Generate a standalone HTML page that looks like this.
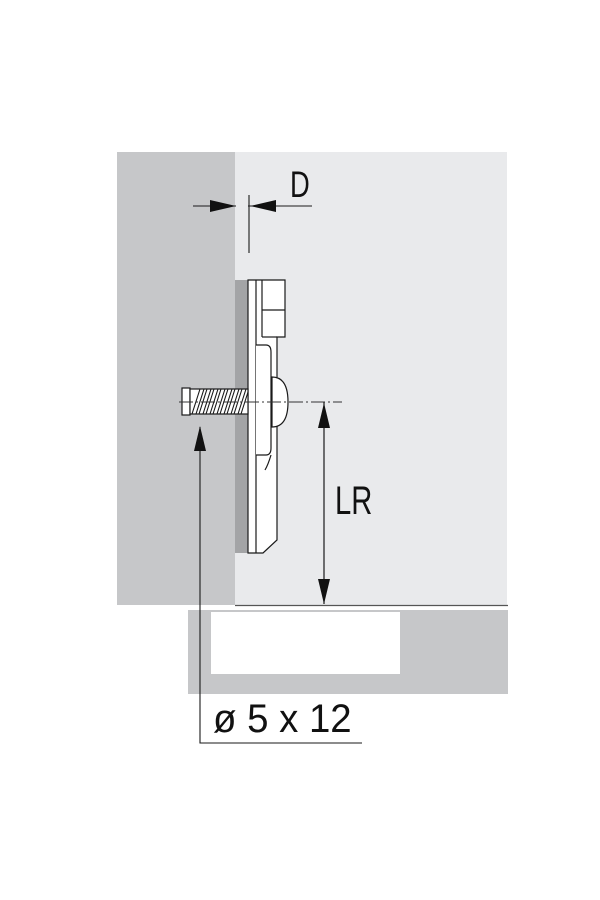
<!DOCTYPE html>
<html><head><style>html,body{margin:0;padding:0;background:#fff;}svg{display:block}</style></head>
<body>
<svg width="600" height="900" viewBox="0 0 600 900" xmlns="http://www.w3.org/2000/svg">
<rect x="117" y="152" width="118" height="453" fill="#c6c7c9"/>
<rect x="235" y="152" width="272" height="453" fill="#e9eaec"/>
<line x1="235" y1="605.5" x2="508" y2="605.5" stroke="#555" stroke-width="1.2"/>
<rect x="188" y="610" width="320" height="84" fill="#c6c7c9"/>
<rect x="211" y="612" width="189" height="62" fill="#fff"/>
<!-- plate -->
<rect x="235" y="280" width="13" height="273" fill="#a3a4a6"/>
<g fill="#fff" stroke="#1a1a1a" stroke-width="1.2">
<path d="M248 280 H285 V337 H277 V540 L263 553 H248 Z"/>
<line x1="256" y1="280" x2="256" y2="553"/>
<line x1="262" y1="280" x2="262" y2="337"/>
<line x1="262" y1="310" x2="285" y2="310"/>
<line x1="262" y1="337" x2="277" y2="337"/>
<path d="M256 345 H266 Q271 345 271 352 V448 Q271 455 266 455 H256"/>
<path d="M271 455 Q268 465 265 470" fill="none"/>
<path d="M272 377 Q288 377 288 402 Q288 427 272 427 Z"/>
<rect x="182" y="388" width="8" height="27"/>
<rect x="190" y="389" width="58" height="25" fill="#fff"/>
</g>
<g stroke="#1a1a1a" stroke-width="1.1" fill="none">
<path d="M192 414 L200 389 M199 414 L207 389 M206 414 L214 389 M213 414 L221 389 M220 414 L228 389 M227 414 L235 389 M234 414 L242 389 M241 414 L248 392"/>
<path d="M196 414 L204 389 M203 414 L211 389 M210 414 L218 389 M217 414 L225 389 M224 414 L232 389 M231 414 L239 389 M238 414 L246 389"/>
</g>
<!-- centerline -->
<line x1="179" y1="402" x2="342" y2="402" stroke="#333" stroke-width="1" stroke-dasharray="14,3,2,3"/>
<!-- D dimension -->
<g stroke="#1a1a1a" stroke-width="1.1">
<line x1="193" y1="206" x2="236" y2="206"/>
<line x1="248" y1="206" x2="312" y2="206"/>
<line x1="249" y1="195" x2="249" y2="253"/>
</g>
<polygon points="236,206 210,200 210,212" fill="#111"/>
<polygon points="250,206 276,200 276,212" fill="#111"/>
<text x="290" y="197" font-family="Liberation Sans, sans-serif" font-size="37" fill="#111" transform="translate(290 0) scale(0.74 1) translate(-290 0)">D</text>
<!-- LR -->
<line x1="324" y1="402" x2="324" y2="604" stroke="#1a1a1a" stroke-width="1.2"/>
<polygon points="324,403 318,428 330,428" fill="#111"/>
<polygon points="324,604 318,579 330,579" fill="#111"/>
<text x="335" y="514" font-family="Liberation Sans, sans-serif" font-size="40" fill="#111" transform="translate(335 0) scale(0.73 1) translate(-335 0)">LR</text>
<!-- screw leader -->
<polyline points="200,427 200,743 362,743" fill="none" stroke="#1a1a1a" stroke-width="1.1"/>
<polygon points="200,426 194,451 206,451" fill="#111"/>
<text x="213" y="732" font-family="Liberation Sans, sans-serif" font-size="40" fill="#111" transform="translate(213 0) scale(0.96 1) translate(-213 0)">ø 5 x 12</text>
</svg>
</body></html>
